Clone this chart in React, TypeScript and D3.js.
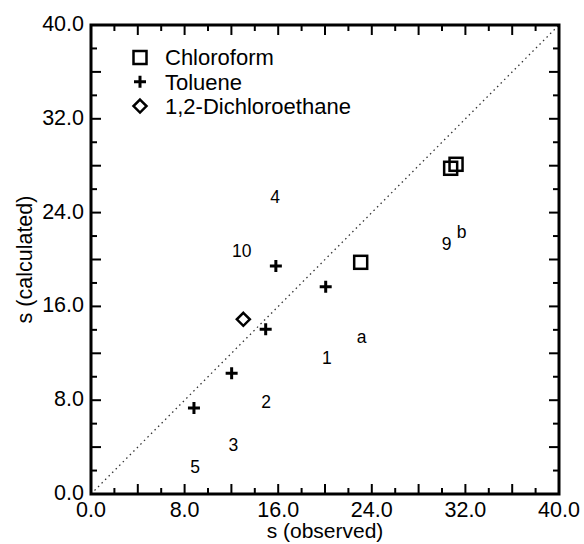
import React from "react";
import * as d3 from "d3";

const chloroform: [number, number][] = [[23.05, 19.76], [30.74, 27.78], [31.2, 28.12]];
const toluene: [number, number][] = [[8.8, 7.33], [12.02, 10.29], [14.93, 14.05], [15.8, 19.45], [20.06, 17.68]];
const dichloroethane: [number, number][] = [[13.02, 14.9]];
const pointLabels: { t: string; x: number; y: number }[] = [
  { t: "4", x: 15.73, y: 24.79 },
  { t: "10", x: 12.88, y: 20.19 },
  { t: "1", x: 20.15, y: 11.09 },
  { t: "2", x: 14.96, y: 7.31 },
  { t: "3", x: 12.16, y: 3.69 },
  { t: "5", x: 8.89, y: 1.77 },
  { t: "a", x: 23.14, y: 12.9 },
  { t: "9", x: 30.4, y: 20.81 },
  { t: "b", x: 31.68, y: 21.86 },
];
const legendItems = ["Chloroform", "Toluene", "1,2-Dichloroethane"];
const majorTicks = [0, 8, 16, 24, 32, 40];
const minorTicks = d3.range(0, 40.01, 2);

const W = 584, H = 544;
const L = 91, R = 559, T = 25, B = 494;
const FONT = "'Liberation Sans', Arial, Helvetica, sans-serif";

function Square({ cx, cy }: { cx: number; cy: number }) {
  const s = 13;
  return <rect x={cx - s / 2} y={cy - s / 2} width={s} height={s} fill="none" stroke="#000" strokeWidth={2.5} />;
}
function Plus({ cx, cy }: { cx: number; cy: number }) {
  const s = 6;
  return (
    <path d={`M${cx - s},${cy}H${cx + s}M${cx},${cy - s}V${cy + s}`} stroke="#000" strokeWidth={3} fill="none" />
  );
}
function Diamond({ cx, cy }: { cx: number; cy: number }) {
  const s = 6.5;
  return (
    <path d={`M${cx},${cy - s}L${cx + s},${cy}L${cx},${cy + s}L${cx - s},${cy}Z`} stroke="#000" strokeWidth={2.5} fill="none" />
  );
}

export default function App() {
  const x = d3.scaleLinear().domain([0, 40]).range([L, R]);
  const y = d3.scaleLinear().domain([0, 40]).range([B, T]);
  const tickLen = (v: number) => (v % 4 === 0 ? 10 : 6);
  const fmt = d3.format(".1f");

  return (
    <svg width={W} height={H} style={{ position: "absolute", left: 0, top: 0, background: "#fff" }} fontFamily={FONT}>
      <rect width={W} height={H} fill="#fff" />
      {/* diagonal */}
      <line x1={x(0)} y1={y(0)} x2={x(40)} y2={y(40)} stroke="#333" strokeWidth={1.3} strokeDasharray="1.5,3.5" />
      {/* ticks */}
      {minorTicks.filter((v) => v > 0 && v < 40).map((v) => (
        <g key={v} stroke="#000" strokeWidth={2}>
          <line x1={x(v)} x2={x(v)} y1={B} y2={B - tickLen(v)} />
          <line x1={x(v)} x2={x(v)} y1={T} y2={T + tickLen(v)} />
          <line y1={y(v)} y2={y(v)} x1={L} x2={L + tickLen(v)} />
          <line y1={y(v)} y2={y(v)} x1={R} x2={R - tickLen(v)} />
        </g>
      ))}
      <rect x={L} y={T} width={R - L} height={B - T} fill="none" stroke="#000" strokeWidth={3} />
      {/* tick labels */}
      {majorTicks.map((v) => (
        <text key={"x" + v} x={x(v)} y={B + 23} fontSize={21.5} textAnchor="middle">{fmt(v)}</text>
      ))}
      {majorTicks.map((v) => (
        <text key={"y" + v} x={L - 7} y={y(v) + 6} fontSize={21.5} textAnchor="end">{fmt(v)}</text>
      ))}
      <text x={(L + R) / 2} y={538} fontSize={21} textAnchor="middle">s (observed)</text>
      <text transform={`translate(32,${(T + B) / 2}) rotate(-90)`} fontSize={21.5} textAnchor="middle">s (calculated)</text>
      {/* points */}
      {chloroform.map((d, i) => <Square key={"c" + i} cx={x(d[0])} cy={y(d[1])} />)}
      {toluene.map((d, i) => <Plus key={"t" + i} cx={x(d[0])} cy={y(d[1])} />)}
      {dichloroethane.map((d, i) => <Diamond key={"d" + i} cx={x(d[0])} cy={y(d[1])} />)}
      {pointLabels.map((p) => (
        <text key={p.t} x={x(p.x)} y={y(p.y)} fontSize={17.5} textAnchor="middle">{p.t}</text>
      ))}
      {/* legend */}
      {legendItems.map((t, i) => {
        const cy = 57.5 + i * 24.3;
        return (
          <g key={t}>
            {i === 0 && <Square cx={140} cy={cy} />}
            {i === 1 && <Plus cx={140} cy={cy} />}
            {i === 2 && <Diamond cx={140} cy={cy} />}
            <text x={165} y={cy + 7.8} fontSize={22}>{t}</text>
          </g>
        );
      })}
    </svg>
  );
}
